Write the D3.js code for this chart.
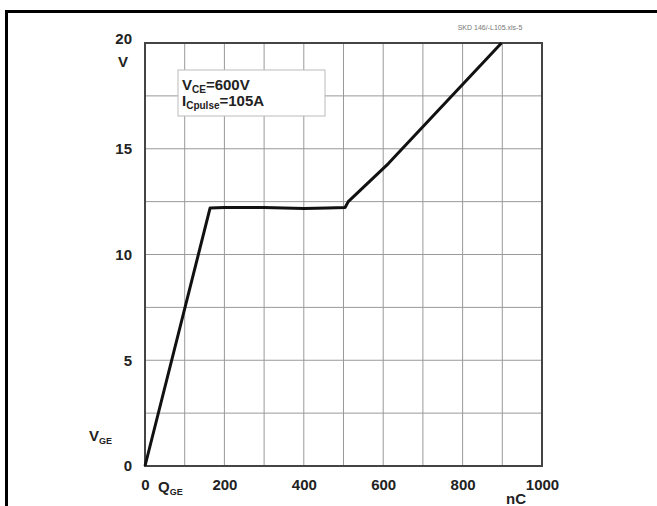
<!DOCTYPE html>
<html>
<head>
<meta charset="utf-8">
<script src="https://cdn.jsdelivr.net/npm/d3@7"></script>
<style>
  body { margin: 0; background: #fff; }
  text { font-family: Arial, "Liberation Sans", sans-serif; }
</style>
</head>
<body>
<script>
// gate charge curve
var charge = [0, 164, 200, 300, 400, 460, 504, 512, 613, 898];
var vge    = [0, 12.2, 12.22, 12.22, 12.17, 12.2, 12.22, 12.5, 14.3, 20];

var xTicks = [0, 200, 400, 600, 800, 1000];
var yTicks = [0, 5, 10, 15, 20];
var xGrid = d3.range(0, 1001, 100);
var yGrid = d3.range(0, 20.1, 2.5);

var width = 657, height = 506;
var plot = { left: 145, right: 542, top: 43, bottom: 466 };

var svg = d3.select('body').append('svg')
    .attr('width', width)
    .attr('height', height);

// outer frame (top and left edges only visible)
svg.append('line').attr('x1', 5).attr('x2', width).attr('y1', 11.5).attr('y2', 11.5)
    .attr('stroke', '#000').attr('stroke-width', 3);
svg.append('line').attr('x1', 6.5).attr('x2', 6.5).attr('y1', 10).attr('y2', height)
    .attr('stroke', '#000').attr('stroke-width', 3);

svg.append('text')
    .attr('x', 490).attr('y', 30)
    .attr('text-anchor', 'middle')
    .attr('font-size', 7).attr('fill', '#777')
    .text('SKD 146/-L105.xls-5');

var x = d3.scaleLinear().domain([0, 1000]).range([plot.left, plot.right]);
var y = d3.scaleLinear().domain([0, 20]).range([plot.bottom, plot.top]);

var g = svg.append('g');

g.selectAll('.vgrid').data(xGrid).enter().append('line')
    .attr('x1', d => x(d)).attr('x2', d => x(d))
    .attr('y1', plot.top).attr('y2', plot.bottom)
    .attr('stroke', '#999').attr('stroke-width', 1);

g.selectAll('.hgrid').data(yGrid).enter().append('line')
    .attr('x1', plot.left).attr('x2', plot.right)
    .attr('y1', d => y(d)).attr('y2', d => y(d))
    .attr('stroke', '#999').attr('stroke-width', 1);

g.append('rect')
    .attr('x', plot.left).attr('y', plot.top)
    .attr('width', plot.right - plot.left).attr('height', plot.bottom - plot.top)
    .attr('fill', 'none').attr('stroke', '#444').attr('stroke-width', 2);

// axes as labels only
var xAxis = d3.axisBottom(x).tickValues(xTicks).tickFormat(d3.format('d')).tickSize(0).tickPadding(13);
var yAxis = d3.axisLeft(y).tickValues(yTicks).tickSize(0).tickPadding(13);

g.append('g').attr('transform', `translate(0, ${plot.bottom})`).call(xAxis)
    .call(a => a.select('.domain').remove())
    .selectAll('text').attr('font-size', 15).attr('font-weight', 'bold').attr('fill', '#222')
    .attr('font-family', 'Arial, "Liberation Sans", sans-serif');

g.append('g').attr('transform', `translate(${plot.left}, 0)`).call(yAxis)
    .call(a => a.select('.domain').remove())
    .selectAll('text').attr('font-size', 15).attr('font-weight', 'bold').attr('fill', '#222')
    .attr('font-family', 'Arial, "Liberation Sans", sans-serif')
    .attr('dy', d => d === 20 ? '0.05em' : '0.32em');

// legend box
g.append('rect')
    .attr('x', 178).attr('y', 70).attr('width', 147).attr('height', 46)
    .attr('fill', '#fff').attr('stroke', '#bbb').attr('stroke-width', 1);

function sub(sel, main, s, rest, yy) {
  var t = sel.append('text').attr('x', 182).attr('y', yy)
      .attr('font-size', 15).attr('font-weight', 'bold').attr('fill', '#222');
  t.append('tspan').text(main);
  t.append('tspan').attr('font-size', 10).attr('dy', 3).text(s);
  t.append('tspan').attr('dy', -3).text(rest);
}
sub(g, 'V', 'CE', '=600V', 90);
sub(g, 'I', 'Cpulse', '=105A', 106);

// axis titles
var lbl = (xx, yy, main, s, size) => {
  var t = g.append('text').attr('x', xx).attr('y', yy)
      .attr('font-size', size).attr('font-weight', 'bold').attr('fill', '#222');
  t.append('tspan').text(main);
  if (s) t.append('tspan').attr('font-size', 9).attr('dy', 3).text(s);
};
lbl(118, 67, 'V', null, 15);
lbl(89, 441, 'V', 'GE', 15);
lbl(158, 492, 'Q', 'GE', 15);
lbl(506, 504, 'nC', null, 15);

var line = d3.line()
    .x((d, i) => x(charge[i]))
    .y(d => y(d));

g.append('path')
    .attr('d', line(vge))
    .attr('fill', 'none')
    .attr('stroke', '#111')
    .attr('stroke-width', 3)
    .attr('stroke-linejoin', 'round');
</script>
</body>
</html>
